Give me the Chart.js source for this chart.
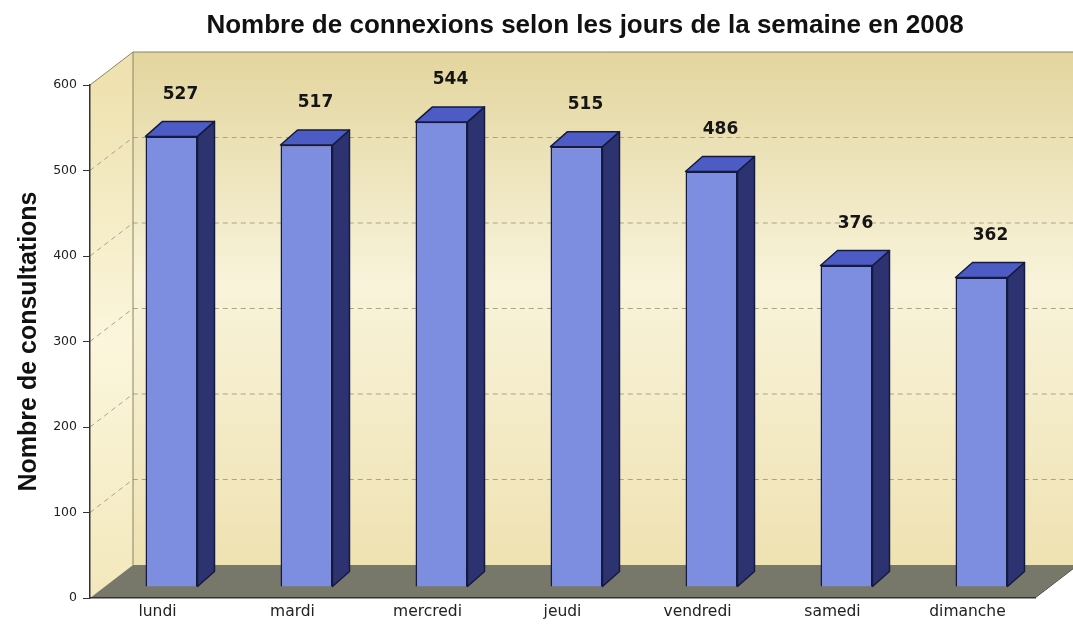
<!DOCTYPE html>
<html lang="fr">
  <head>
    <meta charset="UTF-8" />
    <title>Nombre de connexions</title>
    <style>
      body {
        margin: 0;
        background: #ffffff;
      }
      .chart-box {
        width: 1073px;
        height: 630px;
      }
    </style>
  </head>
  <body>
    <div class="chart-box">
      <canvas id="mychart"></canvas>
    </div>

    <script src="https://cdn.jsdelivr.net/npm/chart.js@4.4.1/dist/chart.umd.min.js"></script>
    <script>
      // données
      const titre = "Nombre de connexions selon les jours de la semaine en 2008";
      const jours = ["lundi", "mardi", "mercredi", "jeudi", "vendredi", "samedi", "dimanche"];
      const connexions = [527, 517, 544, 515, 486, 376, 362];
      const graduations = [0, 100, 200, 300, 400, 500, 600];

      // profondeur du décor 3D (mur du fond, barres, faces des barres)
      const MUR_DX = 43, MUR_DY = -33;
      const BARRE_DX = 14, BARRE_DY = -11;
      const FACE_DX = 17, FACE_DY = -15;

      function poly(ctx, pts) {
        ctx.beginPath();
        ctx.moveTo(pts[0][0], pts[0][1]);
        for (let i = 1; i < pts.length; i++) ctx.lineTo(pts[i][0], pts[i][1]);
        ctx.closePath();
      }

      const decor3d = {
        id: "decor3d",
        beforeDraw(chart) {
          const { ctx, chartArea: a, scales } = chart;
          const x0 = a.left, x1 = a.right, yt = a.top, yb = a.bottom;
          ctx.save();

          // mur du fond
          const g = ctx.createLinearGradient(0, yt + MUR_DY, 0, yb + MUR_DY);
          g.addColorStop(0, "#e3d59e");
          g.addColorStop(0.45, "#f8f3da");
          g.addColorStop(1, "#efe2b2");
          ctx.fillStyle = g;
          ctx.fillRect(x0 + MUR_DX, yt + MUR_DY, x1 - x0, yb - yt);

          // mur de gauche
          const g2 = ctx.createLinearGradient(0, yt, 0, yb);
          g2.addColorStop(0, "#efe2b0");
          g2.addColorStop(0.5, "#fbf6dc");
          g2.addColorStop(1, "#f3e8bc");
          ctx.fillStyle = g2;
          poly(ctx, [[x0, yt], [x0 + MUR_DX, yt + MUR_DY], [x0 + MUR_DX, yb + MUR_DY], [x0, yb]]);
          ctx.fill();

          // sol
          ctx.fillStyle = "#78786a";
          poly(ctx, [[x0, yb], [x0 + MUR_DX, yb + MUR_DY], [x1 + MUR_DX, yb + MUR_DY], [x1, yb]]);
          ctx.fill();

          // lignes de quadrillage en pointillés
          ctx.strokeStyle = "#a8a48c";
          ctx.lineWidth = 1;
          ctx.setLineDash([5, 4]);
          graduations.forEach((v) => {
            if (v === 0 || v === graduations[graduations.length - 1]) return;
            const py = scales.y.getPixelForValue(v);
            ctx.beginPath();
            ctx.moveTo(x0, py);
            ctx.lineTo(x0 + MUR_DX, py + MUR_DY);
            ctx.lineTo(x1 + MUR_DX, py + MUR_DY);
            ctx.stroke();
          });
          ctx.setLineDash([]);

          // arêtes
          ctx.strokeStyle = "#8a8460";
          ctx.beginPath();
          ctx.moveTo(x0, yt);
          ctx.lineTo(x0 + MUR_DX, yt + MUR_DY);
          ctx.lineTo(x1 + MUR_DX, yt + MUR_DY);
          ctx.moveTo(x0 + MUR_DX, yt + MUR_DY);
          ctx.lineTo(x0 + MUR_DX, yb + MUR_DY);
          ctx.stroke();
          ctx.strokeStyle = "#55554a";
          ctx.beginPath();
          ctx.moveTo(x1, yb);
          ctx.lineTo(x1 + MUR_DX, yb + MUR_DY);
          ctx.stroke();
          ctx.restore();
        },
        beforeDatasetsDraw(chart) {
          chart.ctx.save();
          chart.ctx.translate(BARRE_DX, BARRE_DY);
        },
        afterDatasetsDraw(chart) {
          const ctx = chart.ctx;
          const meta = chart.getDatasetMeta(0);
          ctx.lineWidth = 1.5;
          ctx.strokeStyle = "#141a40";
          ctx.lineJoin = "round";
          meta.data.forEach((bar) => {
            const { x, y, base, width } = bar.getProps(["x", "y", "base", "width"], true);
            const l = x - width / 2, r = x + width / 2;
            // face de côté
            ctx.fillStyle = "#2d3270";
            poly(ctx, [[r, y], [r + FACE_DX, y + FACE_DY], [r + FACE_DX, base + FACE_DY], [r, base]]);
            ctx.fill();
            ctx.stroke();
            // face du dessus
            ctx.fillStyle = "#4c5cc4";
            poly(ctx, [[l, y], [l + FACE_DX, y + FACE_DY], [r + FACE_DX, y + FACE_DY], [r, y]]);
            ctx.fill();
            ctx.stroke();
          });
          ctx.restore();

          // étiquettes de valeurs
          ctx.save();
          ctx.font = "bold 17px 'DejaVu Sans', Verdana, sans-serif";
          ctx.fillStyle = "#151515";
          ctx.textAlign = "center";
          ctx.textBaseline = "middle";
          meta.data.forEach((bar, i) => {
            ctx.fillText(connexions[i], bar.x + BARRE_DX + 9, bar.y + BARRE_DY - 42);
          });
          ctx.restore();
        },
        afterDraw(chart) {
          // titre, centré sur le mur du fond
          const ctx = chart.ctx;
          ctx.save();
          ctx.font = "bold 26px 'Liberation Sans', Arial, sans-serif";
          ctx.fillStyle = "#111111";
          ctx.textAlign = "center";
          ctx.textBaseline = "middle";
          ctx.fillText(titre, 585, 26);
          ctx.restore();
        },
      };

      const mychart = document.getElementById("mychart");

      new Chart(mychart, {
        type: "bar",
        data: {
          labels: jours,
          datasets: [
            {
              label: "Nombre de consultations",
              data: connexions,
              backgroundColor: "#7d8ddf",
              borderColor: "#141a40",
              borderWidth: 1.5,
              barPercentage: 0.385,
              categoryPercentage: 1,
            },
          ],
        },
        options: {
          responsive: true,
          maintainAspectRatio: false,
          animation: false,
          layout: { padding: { left: 14, right: 38, top: 85, bottom: 0 } },
          plugins: {
            legend: { display: false },
            tooltip: { enabled: false },
            title: { display: false },
          },
          scales: {
            x: {
              grid: { display: false, drawTicks: false },
              border: { display: true, color: "#333333", width: 1.5 },
              ticks: {
                color: "#222222",
                font: { family: "'DejaVu Sans', Tahoma, sans-serif", size: 15.5 },
                padding: 5,
              },
              afterFit(scale) {
                scale.height = 32;
              },
            },
            y: {
              min: 0,
              max: 600,
              afterBuildTicks(scale) {
                scale.ticks = graduations.map((v) => ({ value: v }));
              },
              grid: { drawOnChartArea: false, drawTicks: true, tickLength: 7, color: "#333333" },
              border: { display: true, color: "#333333", width: 1.5 },
              ticks: {
                color: "#222222",
                font: { family: "'DejaVu Sans', Verdana, sans-serif", size: 12.5 },
                padding: 6,
              },
              title: {
                display: true,
                text: "Nombre de consultations",
                color: "#111111",
                font: { family: "'Liberation Sans', Arial, sans-serif", size: 25, weight: "bold" },
                padding: { top: 0, bottom: 0 },
              },
              afterFit(scale) {
                scale.width = 76;
              },
            },
          },
        },
        plugins: [decor3d],
      });
    </script>
  </body>
</html>
